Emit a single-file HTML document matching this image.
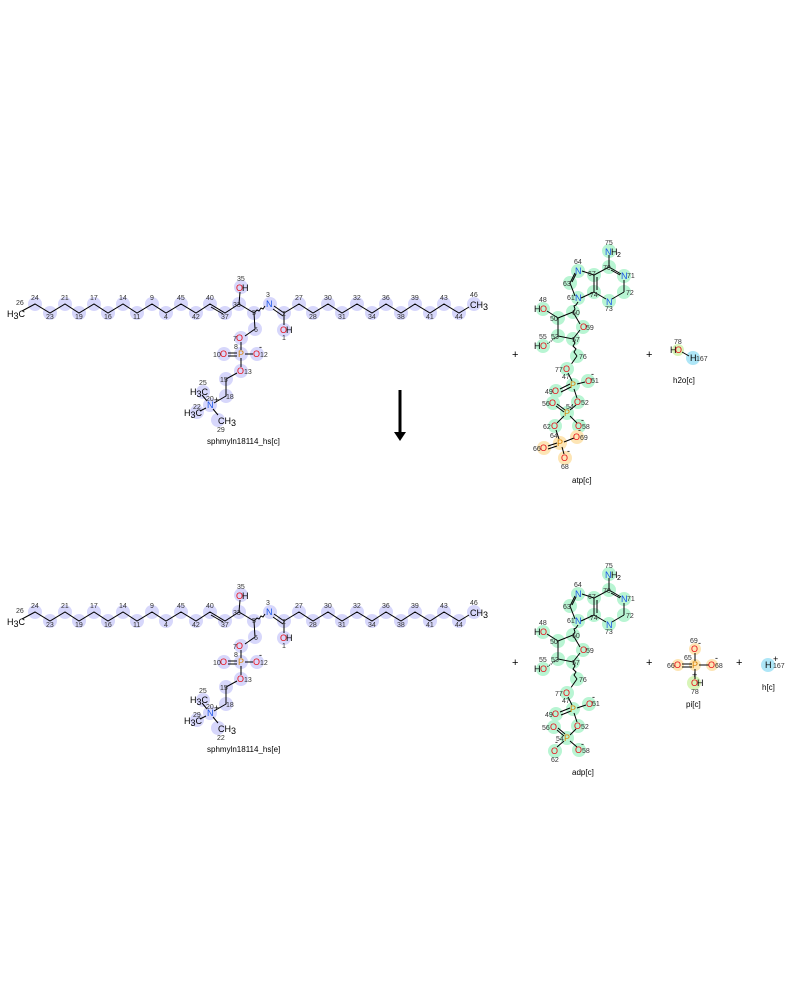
<!DOCTYPE html>
<html><head><meta charset="utf-8"><style>
html,body{margin:0;padding:0;background:#fff;width:800px;height:1000px;overflow:hidden}
svg{display:block}
text{font-family:"Liberation Sans","DejaVu Sans",sans-serif}
.n{font-size:7px;fill:#333}
.a{font-size:9px}
.b{stroke:#000;stroke-width:1;fill:none}
.hl circle{fill:#d7d7fb}
.g circle{fill:#b8f5d3}
.o{fill:#e8101a}.nn{fill:#1a55e8}.p{fill:#d98200}
.lb{font-size:8px;fill:#000}
</style></head><body>
<svg width="800" height="1000" viewBox="0 0 800 1000" xmlns="http://www.w3.org/2000/svg">
<defs>
<g id="smcore">
<g class="hl">
<circle cx="15" cy="313" r="0"/>
<circle cx="35" cy="304" r="7"/><circle cx="50" cy="313" r="7"/><circle cx="65" cy="304" r="7"/><circle cx="79" cy="313" r="7"/><circle cx="94" cy="304" r="7"/><circle cx="108" cy="313" r="7"/><circle cx="123" cy="304" r="7"/><circle cx="137" cy="313" r="7"/><circle cx="152" cy="304" r="7"/><circle cx="166" cy="313" r="7"/><circle cx="181" cy="304" r="7"/><circle cx="196" cy="313" r="7"/><circle cx="210" cy="304" r="7"/><circle cx="225" cy="313" r="7"/><circle cx="239" cy="304" r="7"/><circle cx="254" cy="313" r="7"/><circle cx="241" cy="287" r="7"/><circle cx="270" cy="304" r="7"/><circle cx="284" cy="313" r="7"/><circle cx="284" cy="330" r="7"/>
<circle cx="299" cy="304" r="7"/><circle cx="313" cy="313" r="7"/><circle cx="328" cy="304" r="7"/><circle cx="342" cy="313" r="7"/><circle cx="357" cy="304" r="7"/><circle cx="372" cy="313" r="7"/><circle cx="386" cy="304" r="7"/><circle cx="401" cy="313" r="7"/><circle cx="415" cy="304" r="7"/><circle cx="430" cy="313" r="7"/><circle cx="444" cy="304" r="7"/><circle cx="459" cy="313" r="7"/><circle cx="474" cy="304" r="7"/>
<circle cx="255" cy="329" r="7"/><circle cx="241" cy="338" r="7"/><circle cx="241" cy="354" r="7"/><circle cx="224" cy="354" r="7"/><circle cx="257" cy="354" r="7"/><circle cx="241" cy="371" r="7"/><circle cx="226" cy="379" r="7"/><circle cx="226" cy="396" r="7"/><circle cx="210" cy="405" r="7"/><circle cx="203" cy="392" r="7"/><circle cx="197" cy="412" r="7"/><circle cx="218" cy="420" r="7"/>
</g>
<polyline class="b" points="22,311 35,304 50,313 65,304 79,313 94,304 108,313 123,304 137,313 152,304 166,313 181,304 196,313 210,304 225,313 239,304 254,313"/>
<line class="b" x1="211" y1="307" x2="223" y2="314"/>
<line class="b" x1="239" y1="304" x2="240" y2="292"/>
<polyline class="b" points="254,313 257,310 259,311 261,308 263,309 265,306"/>
<line class="b" x1="274" y1="306" x2="284" y2="313"/><line class="b" x1="273" y1="309" x2="283" y2="316"/>
<line class="b" x1="284" y1="313" x2="284" y2="325"/>
<polyline class="b" points="284,313 299,304 313,313 328,304 342,313 357,304 372,313 386,304 401,313 415,304 430,313 444,304 459,313 469,307"/>
<polyline class="b" points="254,313 255,329 245,336"/>
<line class="b" x1="241" y1="342" x2="241" y2="350"/>
<line class="b" x1="228" y1="353" x2="237" y2="353"/><line class="b" x1="228" y1="356" x2="237" y2="356"/>
<line class="b" x1="245" y1="354" x2="253" y2="354"/>
<line class="b" x1="241" y1="358" x2="241" y2="367"/>
<polyline class="b" points="237,373 226,379 226,396 214,403"/>
<line class="b" x1="207" y1="401" x2="202" y2="395"/><line class="b" x1="206" y1="408" x2="200" y2="411"/><line class="b" x1="213" y1="409" x2="218" y2="415"/>
<text class="a" x="7" y="317">H<tspan dy="2">3</tspan><tspan dy="-2">C</tspan></text>
<text class="a" x="470" y="308">CH<tspan dy="2">3</tspan></text>
<text class="a o" x="236" y="291">O</text><text class="a" x="242" y="291">H</text>
<text class="a nn" x="266" y="307">N</text>
<text class="a o" x="280" y="333">O</text><text class="a" x="286" y="333">H</text>
<text class="a o" x="236" y="341">O</text>
<text class="a p" x="238" y="357">P</text>
<text class="a o" x="220" y="357">O</text>
<text class="a o" x="253" y="357">O</text><text class="a" x="259" y="350">-</text>
<text class="a o" x="237" y="374">O</text>
<text class="a nn" x="207" y="408">N</text><text class="a" x="214" y="403">+</text>
<text class="a" x="190" y="395">H<tspan dy="2">3</tspan><tspan dy="-2">C</tspan></text>
<text class="a" x="184" y="416">H<tspan dy="2">3</tspan><tspan dy="-2">C</tspan></text>
<text class="a" x="218" y="424">CH<tspan dy="2">3</tspan></text>
<g class="n">
<text x="16" y="305">26</text><text x="31" y="300">24</text><text x="46" y="319">23</text><text x="61" y="300">21</text><text x="75" y="319">19</text><text x="90" y="300">17</text><text x="104" y="319">16</text><text x="119" y="300">14</text><text x="133" y="319">11</text><text x="150" y="300">9</text><text x="164" y="319">4</text><text x="177" y="300">45</text><text x="192" y="319">42</text><text x="206" y="300">40</text><text x="221" y="319">37</text><text x="233" y="307">33</text><text x="237" y="281">35</text><text x="252" y="315">5</text><text x="266" y="297">3</text><text x="282" y="316">2</text><text x="282" y="340">1</text>
<text x="295" y="300">27</text><text x="309" y="319">28</text><text x="324" y="300">30</text><text x="338" y="319">31</text><text x="353" y="300">32</text><text x="368" y="319">34</text><text x="382" y="300">36</text><text x="397" y="319">38</text><text x="411" y="300">39</text><text x="426" y="319">41</text><text x="440" y="300">43</text><text x="455" y="319">44</text><text x="470" y="297">46</text>
<text x="254" y="332">6</text><text x="233" y="341">7</text><text x="234" y="349">8</text><text x="213" y="357">10</text><text x="260" y="357">12</text><text x="244" y="374">13</text><text x="220" y="382">15</text><text x="226" y="399">18</text><text x="206" y="401">20</text><text x="199" y="385">25</text>
</g>
</g>
</defs>

<!-- top sphingomyelin -->
<use href="#smcore"/>
<text class="n" x="193" y="409">22</text><text class="n" x="217" y="432">29</text>
<text class="lb" x="207" y="444">sphmyln18114_hs[c]</text>

<!-- bottom sphingomyelin -->
<use href="#smcore" transform="translate(0,308)"/>
<text class="n" x="193" y="717">29</text><text class="n" x="217" y="740">22</text>
<text class="lb" x="207" y="752">sphmyln18114_hs[e]</text>

<!-- arrow -->
<line x1="400" y1="390" x2="400" y2="432" stroke="#000" stroke-width="3"/>
<polygon points="394,432 406,432 400,441" fill="#000"/>

<!-- ATP -->
<g id="nuc">
<g class="g">
<circle cx="609" cy="251" r="7"/><circle cx="609" cy="267" r="7"/><circle cx="624" cy="276" r="7"/><circle cx="624" cy="292" r="7"/><circle cx="609" cy="301" r="7"/><circle cx="594" cy="292" r="7"/><circle cx="594" cy="275" r="7"/><circle cx="578" cy="271" r="7"/><circle cx="570" cy="283" r="7"/><circle cx="578" cy="298" r="7"/><circle cx="573" cy="312" r="7"/><circle cx="583" cy="327" r="7"/><circle cx="573" cy="339" r="7"/><circle cx="558" cy="336" r="7"/><circle cx="558" cy="318" r="7"/><circle cx="543" cy="309" r="7"/><circle cx="543" cy="346" r="7"/><circle cx="577" cy="356" r="7"/>
</g>
<line class="b" x1="609" y1="255" x2="609" y2="267"/>
<polyline class="b" points="609,267 621,274"/><line class="b" x1="624" y1="280" x2="624" y2="292"/><polyline class="b" points="624,292 612,299"/><polyline class="b" points="606,299 594,292 594,275 609,267"/>
<line class="b" x1="597" y1="290" x2="597" y2="277"/><line class="b" x1="611" y1="270" x2="620" y2="275"/>
<line class="b" x1="594" y1="275" x2="582" y2="271"/><polyline class="b" points="575,273 570,283 575,296"/><line class="b" x1="572" y1="282" x2="576" y2="274"/><line class="b" x1="581" y1="298" x2="594" y2="292"/>
<polyline class="b" points="578,302 576,305 574,306 575,309 573,312"/>
<polyline class="b" points="573,312 580,324"/><polyline class="b" points="580,330 573,339 558,336 558,318 573,312"/>
<line class="b" x1="558" y1="318" x2="547" y2="311" stroke-width="2"/><line class="b" x1="558" y1="336" x2="547" y2="344" stroke-dasharray="1,1" stroke-width="2"/>
<polyline class="b" points="573,339 575,343 573,346 576,349 574,352 577,356"/>
<line class="b" x1="577" y1="356" x2="570" y2="366"/>
<text class="a nn" x="605" y="255">N</text><text class="a" x="611" y="255">H</text><text class="a" x="617" y="257" style="font-size:7px">2</text>
<text class="a nn" x="621" y="279">N</text><text class="a nn" x="606" y="305">N</text><text class="a nn" x="575" y="274">N</text><text class="a nn" x="575" y="301">N</text>
<text class="a o" x="580" y="330">O</text>
<text class="a" x="534" y="312">H</text><text class="a o" x="540" y="312">O</text>
<text class="a" x="534" y="349">H</text><text class="a o" x="540" y="349">O</text>
<g class="n">
<text x="605" y="245">75</text><text x="603" y="270">70</text><text x="627" y="278">71</text><text x="626" y="295">72</text><text x="605" y="311">73</text><text x="590" y="297">74</text><text x="588" y="276">67</text><text x="574" y="264">64</text><text x="563" y="286">63</text><text x="567" y="300">61</text><text x="572" y="315">60</text><text x="586" y="330">59</text><text x="572" y="342">57</text><text x="551" y="339">53</text><text x="550" y="321">50</text><text x="539" y="302">48</text><text x="539" y="339">55</text><text x="579" y="359">76</text>
</g>
</g>
<g class="g"><circle cx="567" cy="369" r="7"/><circle cx="573" cy="385" r="7"/><circle cx="588" cy="381" r="7"/><circle cx="556" cy="391" r="7"/><circle cx="578" cy="402" r="7"/><circle cx="567" cy="413" r="7"/><circle cx="553" cy="403" r="7"/><circle cx="579" cy="426" r="7"/><circle cx="555" cy="426" r="7"/></g>
<g fill="#fde5b5"><circle cx="560" cy="443" r="7"/><circle cx="544" cy="448" r="7"/><circle cx="577" cy="437" r="7"/><circle cx="565" cy="458" r="7"/></g>
<line class="b" x1="568" y1="373" x2="572" y2="381"/><line class="b" x1="577" y1="384" x2="585" y2="382"/><line class="b" x1="560" y1="389" x2="570" y2="384"/><line class="b" x1="561" y1="392" x2="571" y2="387"/><line class="b" x1="574" y1="389" x2="577" y2="398"/><line class="b" x1="576" y1="405" x2="570" y2="410"/><line class="b" x1="557" y1="404" x2="565" y2="410"/><line class="b" x1="556" y1="406" x2="564" y2="412"/><line class="b" x1="570" y1="416" x2="577" y2="423"/><line class="b" x1="564" y1="416" x2="557" y2="423"/><line class="b" x1="556" y1="430" x2="559" y2="439"/><line class="b" x1="548" y1="446" x2="557" y2="443"/><line class="b" x1="548" y1="449" x2="557" y2="446"/><line class="b" x1="564" y1="442" x2="574" y2="438"/><line class="b" x1="562" y1="447" x2="564" y2="454"/>
<text class="a o" x="563" y="372">O</text><text class="a p" x="570" y="388">P</text><text class="a o" x="585" y="384">O</text><text class="a o" x="552" y="394">O</text><text class="a o" x="574" y="405">O</text><text class="a p" x="564" y="416">P</text><text class="a o" x="549" y="406">O</text><text class="a o" x="575" y="429">O</text><text class="a o" x="551" y="429">O</text><text class="a p" x="557" y="446">P</text><text class="a o" x="540" y="451">O</text><text class="a o" x="573" y="440">O</text><text class="a o" x="561" y="461">O</text>
<text class="a" x="591" y="377">-</text><text class="a" x="581" y="423">-</text><text class="a" x="578" y="433">-</text><text class="a" x="567" y="454">-</text>
<g class="n"><text x="555" y="372">77</text><text x="562" y="379">47</text><text x="591" y="383">51</text><text x="545" y="394">49</text><text x="581" y="405">52</text><text x="566" y="409">54</text><text x="542" y="406">56</text><text x="582" y="429">58</text><text x="543" y="429">62</text><text x="550" y="438">64</text><text x="533" y="451">66</text><text x="580" y="440">69</text><text x="561" y="469">68</text></g>
<text class="lb" x="572" y="483">atp[c]</text>
<text x="512" y="358" style="font-size:11px">+</text>
<text x="646" y="358" style="font-size:11px">+</text>
<!-- h2o -->
<circle cx="678" cy="350" r="6" fill="#d8f5b8"/><circle cx="693" cy="358" r="7" fill="#aee6f7"/>
<line class="b" x1="682" y1="352" x2="689" y2="356"/>
<text class="a" x="670" y="353">H</text><text class="a o" x="675" y="353">O</text><text class="a" x="690" y="361">H</text>
<text class="n" x="674" y="344">78</text><text class="n" x="696" y="361">167</text>
<text class="lb" x="673" y="383">h2o[c]</text>

<!-- ADP -->
<use href="#nuc" transform="translate(0,323)"/>
<g class="g"><circle cx="567" cy="693" r="7"/><circle cx="573" cy="709" r="7"/><circle cx="589" cy="704" r="7"/><circle cx="556" cy="714" r="7"/><circle cx="578" cy="726" r="7"/><circle cx="567" cy="738" r="7"/><circle cx="554" cy="727" r="7"/><circle cx="579" cy="750" r="7"/><circle cx="555" cy="751" r="7"/></g>
<line class="b" x1="568" y1="697" x2="572" y2="705"/><line class="b" x1="577" y1="708" x2="586" y2="705"/><line class="b" x1="560" y1="712" x2="570" y2="708"/><line class="b" x1="561" y1="715" x2="571" y2="711"/><line class="b" x1="574" y1="713" x2="577" y2="722"/><line class="b" x1="576" y1="729" x2="570" y2="735"/><line class="b" x1="558" y1="728" x2="565" y2="734"/><line class="b" x1="557" y1="730" x2="564" y2="736"/><line class="b" x1="570" y1="741" x2="577" y2="747"/><line class="b" x1="564" y1="741" x2="557" y2="747"/>
<text class="a o" x="563" y="696">O</text><text class="a p" x="570" y="712">P</text><text class="a o" x="586" y="707">O</text><text class="a o" x="552" y="717">O</text><text class="a o" x="574" y="729">O</text><text class="a p" x="564" y="741">P</text><text class="a o" x="550" y="730">O</text><text class="a o" x="575" y="753">O</text><text class="a o" x="551" y="754">O</text>
<text class="a" x="592" y="700">-</text><text class="a" x="581" y="747">-</text><text class="a" x="555" y="745">-</text>
<g class="n"><text x="555" y="696">77</text><text x="562" y="703">47</text><text x="592" y="706">51</text><text x="545" y="717">49</text><text x="581" y="729">52</text><text x="556" y="741">54</text><text x="542" y="730">56</text><text x="582" y="753">58</text><text x="551" y="762">62</text></g>
<text class="lb" x="572" y="775">adp[c]</text>
<text x="512" y="666" style="font-size:11px">+</text>
<text x="646" y="666" style="font-size:11px">+</text>
<text x="736" y="666" style="font-size:11px">+</text>
<!-- pi -->
<circle cx="695" cy="649" r="6" fill="#fde5b5"/><circle cx="695" cy="665" r="6" fill="#fde5b5"/><circle cx="678" cy="665" r="6" fill="#fde5b5"/><circle cx="712" cy="665" r="6" fill="#fde5b5"/><circle cx="694" cy="683" r="7" fill="#d8f5b8"/>
<line class="b" x1="695" y1="653" x2="695" y2="661"/><line class="b" x1="682" y1="664" x2="692" y2="664"/><line class="b" x1="682" y1="667" x2="692" y2="667"/><line class="b" x1="699" y1="665" x2="709" y2="665"/><line class="b" x1="695" y1="669" x2="695" y2="679"/>
<text class="a o" x="691" y="652">O</text><text class="a p" x="692" y="668">P</text><text class="a o" x="674" y="668">O</text><text class="a o" x="708" y="668">O</text><text class="a o" x="691" y="686">O</text><text class="a" x="697" y="686">H</text>
<text class="a" x="698" y="646">-</text><text class="a" x="715" y="661">-</text><text class="a" x="692" y="678">+</text>
<g class="n"><text x="690" y="643">69</text><text x="684" y="660">65</text><text x="667" y="668">66</text><text x="715" y="668">68</text><text x="691" y="694">78</text></g>
<text class="lb" x="686" y="707">pi[c]</text>
<!-- h -->
<circle cx="768" cy="665" r="7" fill="#aee6f7"/>
<text class="a" x="765" y="668">H</text><text class="a" x="773" y="662">+</text><text class="n" x="773" y="668">167</text>
<text class="lb" x="762" y="690">h[c]</text>
</svg>
</body></html>
